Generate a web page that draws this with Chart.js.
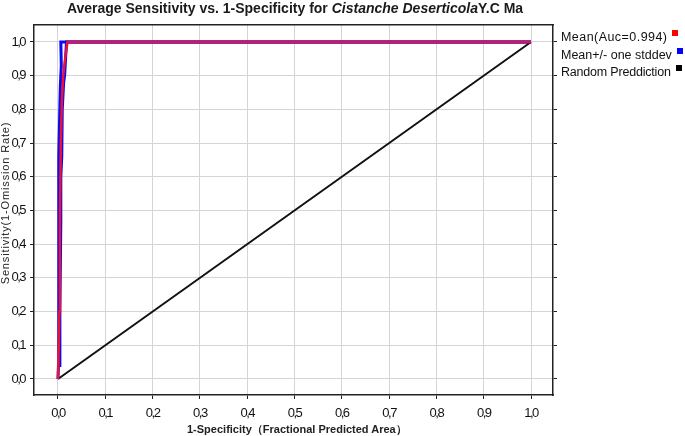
<!DOCTYPE html>
<html>
<head>
<meta charset="utf-8">
<script src="https://cdn.jsdelivr.net/npm/chart.js@4.4.1/dist/chart.umd.min.js"></script>
<style>
  html, body { margin: 0; padding: 0; background: #fff; }
  #wrap { position: relative; width: 685px; height: 436px; overflow: hidden; }
  #title {
    position: absolute; left: 0; top: 0px; width: 590px; text-align: center;
    font: 600 14px 'Liberation Sans', Arial, sans-serif; color: #1a1a1a;
  }
  #legend {
    position: absolute; left: 561px; top: 29px;
    font: 12.5px 'Liberation Sans', Arial, sans-serif; color: #111;
  }
  #legend div { height: 17.5px; line-height: 17px; white-space: nowrap; }
  #legend div:nth-child(1) { letter-spacing: 0.45px; }
  #legend div:nth-child(3) { letter-spacing: -0.2px; }
  #legend span.box { display: inline-block; width: 6px; height: 6px; margin-left: 5px; vertical-align: 5px; }
  #ytitle {
    position: absolute; left: 5px; top: 203px; width: 200px; margin-left: -100px; margin-top: -7px;
    text-align: center; transform: rotate(-90deg);
    font: 11px 'Liberation Sans', Arial, sans-serif; letter-spacing: 0.85px; color: #222; line-height: 14px;
  }
  #xtitle {
    position: absolute; left: 187px; top: 422px; width: 200px; text-align: center; white-space: nowrap;
    font: bold 11px 'Liberation Sans', Arial, sans-serif; color: #222; line-height: 14px;
  }
</style>
</head>
<body>
<div id="wrap">
  <div id="title">Average Sensitivity vs. 1-Specificity for <i>Cistanche Deserticola</i>Y.C Ma</div>
  <canvas id="roc" width="685" height="436"></canvas>
  <div id="legend"></div>
  <div id="ytitle">Sensitivity(1-Omission Rate)</div>
  <div id="xtitle">1-Specificity（Fractional Predicted Area）</div>
</div>
<script>
// tick positions and their printed labels
const tickValues = [0, 0.1, 0.2, 0.3, 0.4, 0.5, 0.6, 0.7, 0.8, 0.9, 1.0];
const xTickLabels = ['0,0', '0,1', '0,2', '0,3', '0,4', '0,5', '0,6', '0,7', '0,8', '0,9', '1,0'];
const yTickLabels = ['0,0', '0,1', '0,2', '0,3', '0,4', '0,5', '0,6', '0,7', '0,8', '0,9', '1,0'];

// mean ROC curve
const meanX = [0, 0.001, 0.003, 0.004, 0.006, 0.008, 0.011, 0.015, 0.02, 1.0];
const meanY = [0, 0.05, 0.2, 0.47, 0.7, 0.82, 0.9, 0.95, 1.0, 1.0];
// mean + one stddev
const upperX = [0, 0.001, 0.001, 0.002, 0.002, 0.004, 0.005, 0.007, 0.006, 1.0];
const upperY = [0, 0.04, 0.19, 0.38, 0.66, 0.81, 0.87, 0.93, 1.0, 1.0];
// mean - one stddev
const lowerX = [0.003, 0.004, 0.006, 0.006, 0.008, 0.009, 0.012, 0.014, 0.016, 0.018, 1.0];
const lowerY = [0.04, 0.19, 0.47, 0.6, 0.66, 0.8, 0.88, 0.9, 0.95, 1.0, 1.0];
// random prediction
const randomX = [0, 1];
const randomY = [0, 1];

const legendItems = ['Mean(Auc=0.994)', 'Mean+/- one stddev', 'Random Preddiction'];
const legendColors = ['#ff0000', '#0000ff', '#000000'];

function pts(xs, ys) {
  return xs.map((x, i) => ({ x: x, y: ys[i] }));
}

const legend = document.getElementById('legend');
legendItems.forEach(function (t, i) {
  const d = document.createElement('div');
  d.innerHTML = t + '<span class="box" style="background:' + legendColors[i] + '"></span>';
  legend.appendChild(d);
});

const tickFont = { family: "'Liberation Sans', Arial, sans-serif", size: 13 };
const gridColor = '#d4d4d4';

function fixedTicks(axis) {
  axis.ticks = tickValues.map(v => ({ value: v }));
}

// the tick numbers in the original are tightly set
const narrowText = {
  id: 'narrowText',
  beforeDraw: function (chart) { chart.ctx.letterSpacing = '-1.5px'; }
};

const ctx = document.getElementById('roc').getContext('2d');
new Chart(ctx, {
  type: 'scatter',
  data: {
    datasets: [
      { label: legendItems[0], data: pts(meanX, meanY), borderColor: '#ee1131', borderWidth: 2.5, showLine: true, pointRadius: 0, tension: 0 },
      { label: 'upper', data: pts(upperX, upperY), borderColor: '#0a0af5', borderWidth: 3, showLine: true, pointRadius: 0, tension: 0 },
      { label: 'lower', data: pts(lowerX, lowerY), borderColor: '#0a0af5', borderWidth: 3, showLine: true, pointRadius: 0, tension: 0 },
      { label: legendItems[2], data: pts(randomX, randomY), borderColor: '#111', borderWidth: 2, showLine: true, pointRadius: 0, tension: 0 }
    ]
  },
  plugins: [narrowText],
  options: {
    responsive: false,
    animation: false,
    events: [],
    layout: { padding: { top: 25, right: 126, left: 0, bottom: 0 } },
    plugins: { legend: { display: false }, tooltip: { enabled: false } },
    scales: {
      x: {
        type: 'linear', position: 'bottom',
        min: -0.0507, max: 1.0465,
        afterBuildTicks: fixedTicks,
        afterFit: function (s) { s.height = 41; },
        grid: { color: gridColor, tickColor: '#222', tickLength: 4 },
        border: { color: '#222', width: 1.5 },
        ticks: {
          color: '#111', font: tickFont, padding: 7, maxRotation: 0, autoSkip: false,
          callback: function (v) { return xTickLabels[tickValues.indexOf(Math.round(v * 10) / 10)]; }
        }
      },
      y: {
        type: 'linear', position: 'left',
        min: -0.0475, max: 1.0504,
        afterBuildTicks: fixedTicks,
        afterFit: function (s) { s.width = 34; },
        grid: { color: gridColor, tickColor: '#222', tickLength: 4 },
        border: { color: '#222', width: 1.5 },
        ticks: {
          color: '#111', font: tickFont, padding: 5, autoSkip: false,
          callback: function (v) { return yTickLabels[tickValues.indexOf(Math.round(v * 10) / 10)]; }
        }
      },
      x2: {
        type: 'linear', position: 'top',
        min: -0.0507, max: 1.0465,
        afterBuildTicks: fixedTicks,
        afterFit: function (s) { s.height = 0; },
        grid: { display: false },
        border: { color: '#222', width: 1.5 },
        ticks: { display: false }
      },
      y2: {
        type: 'linear', position: 'right',
        min: -0.0475, max: 1.0504,
        afterBuildTicks: fixedTicks,
        afterFit: function (s) { s.width = 6; },
        grid: { drawOnChartArea: false, tickColor: '#222', tickLength: 4 },
        border: { color: '#222', width: 1.5 },
        ticks: { display: false }
      }
    }
  }
});
</script>
</body>
</html>
